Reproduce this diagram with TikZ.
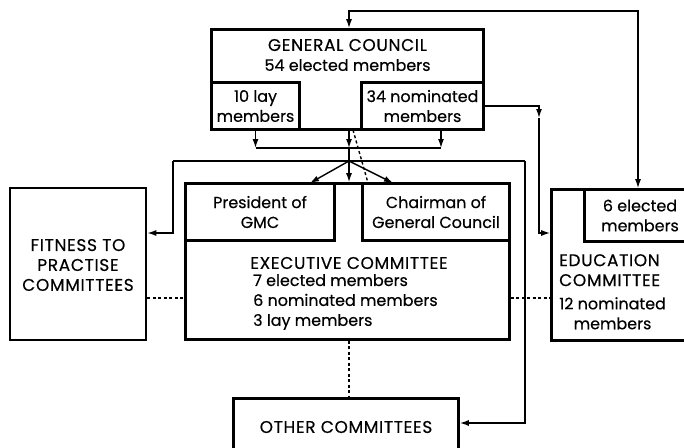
\documentclass[tikz,border=0pt]{standalone}
\usepackage{fontspec}
\setmainfont{Poppins}[FakeBold=0.4]
\usetikzlibrary{positioning,arrows.meta}
\tikzset{
  every node/.style={font=\fontsize{16}{20}\selectfont},
  box/.style={
    rectangle, draw=black, line width=2.6bp,
    inner sep=0pt, align=center
  },
  txt/.style={inner sep=0pt, align=center},
  caps/.style={txt, font=\fontsize{17}{20}\selectfont\addfontfeature{LetterSpace=4}},
  link/.style={draw=black, line width=1.4bp},
  arrow/.style={
    link, -{Latex[length=9pt,width=6pt]}
  },
  dotline/.style={
    draw=black, line width=1.4bp, dash pattern=on 3pt off 2.5pt
  },
}

\begin{document}
\begin{tikzpicture}[x=1bp,y=-1bp]
  \useasboundingbox (0,0) rectangle (684,448);
  \node[box, minimum width=272bp, minimum height=100bp] (gc) at (347.5,79.5) {};
  \node[caps] (gctext) at (347.5,55) {GENERAL COUNCIL\\\fontsize{16}{20}\selectfont\addfontfeature{LetterSpace=0}54 elected members};
  \node[box, minimum width=88bp, minimum height=47bp] (lay) at (255.5,106) {10 lay\\members};
  \node[box, minimum width=122bp, minimum height=47bp] (nom) at (422.5,106) {34 nominated\\members};

  \node[box, minimum width=136bp, minimum height=152bp] (fit) at (78,264) {};
  \node[caps] (fittext) at (78,265) {FITNESS TO\\PRACTISE\\COMMITTEES};

  \node[box, minimum width=324bp, minimum height=156bp] (exec) at (347.5,261.5) {};
  \node[box, minimum width=149bp, minimum height=57bp] (pres) at (260,212) {President of\\GMC};
  \node[box, minimum width=147bp, minimum height=57bp] (chair) at (436,212) {Chairman of\\General Council};
  \node[caps] (exectitle) at (349,263) {EXECUTIVE COMMITTEE};
  \node[txt, align=left, anchor=north west] (execlist) at (253,274) {7 elected members\\6 nominated members\\3 lay members};

  \node[box, minimum width=151bp, minimum height=151bp] (edu) at (627,265) {};
  \node[box, minimum width=111bp, minimum height=52bp] (elec6) at (640,215.5) {6 elected\\members};
  \node[caps, align=left, anchor=north west] (edutitle) at (559,254) {EDUCATION\\COMMITTEE};
  \node[txt, anchor=north west] (edunom) at (559,297) {12 nominated\\members};

  \node[box, minimum width=225bp, minimum height=59bp] (other) at (346,428) {};
  \node[caps] (othertext) at (346,427) {OTHER COMMITTEES};

  \coordinate (split) at (349,161);
  \coordinate (bar) at (349,148);
  \coordinate (nomdrop) at (539,118);
  \coordinate (leftturn) at (173,161);
  \coordinate (rightturn) at (525,161);

  \draw[link, {Latex[length=9pt,width=6pt]}-{Latex[length=9pt,width=6pt]}] (gc.north -| bar) |- (638,11) -- (elec6.north -| 638,0);
  \draw[arrow] (lay.south) -- (lay.south |- bar);
  \draw[arrow] (gc.south -| bar) -- (bar);
  \draw[arrow] (441,130) -- (441,148);
  \draw[link] (lay.south |- bar) -- (441,148);
  \draw[link] (bar) -- (split);
  \draw[link] (leftturn) -- (rightturn);
  \draw[arrow] (split) -- (310,183);
  \draw[arrow] (split) -- (split |- exec.north);
  \draw[arrow] (split) -- (393,183);
  \draw[arrow] (leftturn) |- (fit.east |- 0,233);
  \draw[arrow] (rightturn) |- (other.east |- 0,423);
  \draw[arrow] (nom.east) -| (nomdrop);
  \draw[arrow] (nomdrop) |- (edu.west |- 0,233);

  \draw[dotline] (353,130) -- (368,183);
  \draw[dotline] (fit.east |- 0,298) -- (exec.west |- 0,298);
  \draw[dotline] (exec.east |- 0,298) -- (edu.west |- 0,298);
  \draw[dotline] (exec.south -| 349,0) -- (other.north -| 349,0);
\end{tikzpicture}
\end{document}
